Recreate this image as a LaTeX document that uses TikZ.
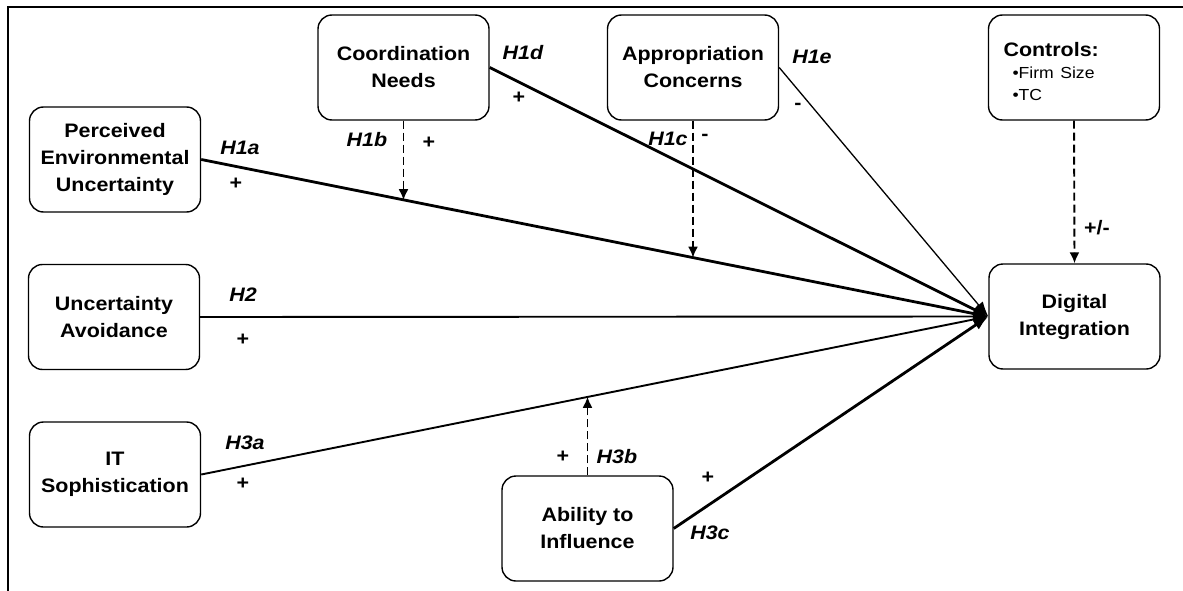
\documentclass[tikz,border=0pt]{standalone}
\usepackage{fontspec}
\setmainfont[FakeStretch=1.1]{Liberation Sans}
\usetikzlibrary{arrows.meta}
\tikzset{
	construct/.style = {draw, line width=1.4pt, rectangle, rounded corners=14pt,
		minimum width=171pt, minimum height=105pt, align=center,
		font=\fontsize{19.5}{27}\selectfont\bfseries},
	hyp/.style      = {font=\fontsize{19.5}{23}\selectfont\bfseries\itshape}, % hypothesis
	sgn/.style      = {font=\fontsize{19.5}{23}\selectfont\bfseries}, % sign
	moderate/.style = {line width=1.9pt, dash pattern=on 8pt off 4pt,
		-{Latex[length=11pt,width=10pt]}},
	heavyline/.style = {line width=2.8pt},
	midline/.style   = {line width=1.9pt},
	lightline/.style = {line width=1.3pt}
}
\newcommand{\ctlitem}[1]{{\fontsize{16}{22}\selectfont\mdseries\hspace*{9pt}\textbullet#1}}

\begin{document}
\begin{tikzpicture}[x=1pt, y=-1pt, >={Latex[length=15pt,width=11pt]}]
		\useasboundingbox (0,0) rectangle (1183,591);
		\draw[line width=2.5pt] (8,591) -- (8,7) -- (1183,7);
		
		\draw
		node at (115,159.5) [construct] (peu) {Perceived\\Environmental\\Uncertainty}
		node at (114,317) [construct] (ua) {Uncertainty\\Avoidance}
		node at (115,474.5) [construct] (it) {IT\\Sophistication}
		node at (403.5,67.5) [construct] (cn) {Coordination\\Needs}
		node at (693,67.5) [construct] (ac) {Appropriation\\Concerns}
		node at (587.5,528.5) [construct] (ai) {Ability to\\Influence}
		node at (1074.5,316.5) [construct] (di) {Digital\\Integration}
		node at (1074,67.5) [construct, align=left, text width=141pt, inner xsep=15pt,
			inner ysep=0pt, text height=42pt, text depth=63pt,
			font=\fontsize{19.5}{22}\selectfont\bfseries] (ctl)
			{Controls:\\\ctlitem{Firm Size}\\\ctlitem{TC}};
		
		\draw[heavyline,->](peu.east)--(di.west);
		\draw[heavyline,->](cn.east)--(di.west);
		\draw[lightline,->](ac.east)--(di.west);
		\draw[midline,->](ua.east)--(di.west);
		\draw[midline,->](it.east)--(di.west);
		\draw[heavyline,->](ai.east)--(di.west);
		
		\path (peu.east) -- coordinate[pos=0.259] (m1) coordinate[pos=0.625] (m2) (di.west);
		\path (it.east) -- coordinate[pos=0.492] (m3) (di.west);
		\draw[moderate](cn.south)--(cn.south |- m1);
		\draw[moderate](ac.south)--(ac.south |- m2);
		\draw[moderate](ai.north)--(ai.north |- m3);
		\draw[moderate](ctl.south)--(di.north);
		
		\draw
		node at (240,148) [hyp] (h1a) {H1a}
		node at (236,184) [sgn] (s1a) {+}
		node at (367,140) [hyp] (h1b) {H1b}
		node at (429,143) [sgn] (s1b) {+}
		node at (668,139) [hyp] (h1c) {H1c}
		node at (705,137) [sgn] (s1c) {-}
		node at (523,53) [hyp] (h1d) {H1d}
		node at (519,98) [sgn] (s1d) {+}
		node at (812,57) [hyp] (h1e) {H1e}
		node at (798,106) [sgn] (s1e) {-}
		node at (243,295) [hyp] (h2) {H2}
		node at (243,340) [sgn] (s2) {+}
		node at (245,443) [hyp] (h3a) {H3a}
		node at (243,484) [sgn] (s3a) {+}
		node at (617,457) [hyp] (h3b) {H3b}
		node at (563,457) [sgn] (s3b) {+}
		node at (710,533) [hyp] (h3c) {H3c}
		node at (708,478) [sgn] (s3c) {+}
		node at (1097,228) [sgn] (sctl) {+/-};
		
	\end{tikzpicture}
\end{document}
